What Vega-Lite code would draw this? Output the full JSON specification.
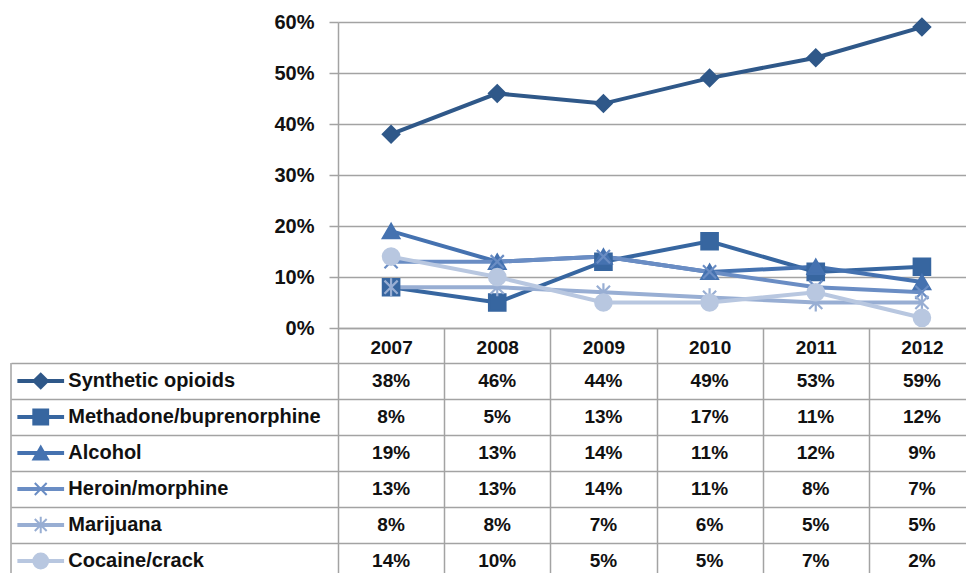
{
  "$schema": "https://vega.github.io/schema/vega-lite/v6.json",
  "padding": {"left": 10, "top": 12, "right": 0, "bottom": 0},
  "bounds": "flush",
  "spacing": 35,
  "datasets": {
    "table": [
      {"series": "Synthetic opioids", "year": 2007, "value": 0.38},
      {"series": "Synthetic opioids", "year": 2008, "value": 0.46},
      {"series": "Synthetic opioids", "year": 2009, "value": 0.44},
      {"series": "Synthetic opioids", "year": 2010, "value": 0.49},
      {"series": "Synthetic opioids", "year": 2011, "value": 0.53},
      {"series": "Synthetic opioids", "year": 2012, "value": 0.59},
      {"series": "Methadone/buprenorphine", "year": 2007, "value": 0.08},
      {"series": "Methadone/buprenorphine", "year": 2008, "value": 0.05},
      {"series": "Methadone/buprenorphine", "year": 2009, "value": 0.13},
      {"series": "Methadone/buprenorphine", "year": 2010, "value": 0.17},
      {"series": "Methadone/buprenorphine", "year": 2011, "value": 0.11},
      {"series": "Methadone/buprenorphine", "year": 2012, "value": 0.12},
      {"series": "Alcohol", "year": 2007, "value": 0.19},
      {"series": "Alcohol", "year": 2008, "value": 0.13},
      {"series": "Alcohol", "year": 2009, "value": 0.14},
      {"series": "Alcohol", "year": 2010, "value": 0.11},
      {"series": "Alcohol", "year": 2011, "value": 0.12},
      {"series": "Alcohol", "year": 2012, "value": 0.09},
      {"series": "Heroin/morphine", "year": 2007, "value": 0.13},
      {"series": "Heroin/morphine", "year": 2008, "value": 0.13},
      {"series": "Heroin/morphine", "year": 2009, "value": 0.14},
      {"series": "Heroin/morphine", "year": 2010, "value": 0.11},
      {"series": "Heroin/morphine", "year": 2011, "value": 0.08},
      {"series": "Heroin/morphine", "year": 2012, "value": 0.07},
      {"series": "Marijuana", "year": 2007, "value": 0.08},
      {"series": "Marijuana", "year": 2008, "value": 0.08},
      {"series": "Marijuana", "year": 2009, "value": 0.07},
      {"series": "Marijuana", "year": 2010, "value": 0.06},
      {"series": "Marijuana", "year": 2011, "value": 0.05},
      {"series": "Marijuana", "year": 2012, "value": 0.05},
      {"series": "Cocaine/crack", "year": 2007, "value": 0.14},
      {"series": "Cocaine/crack", "year": 2008, "value": 0.10},
      {"series": "Cocaine/crack", "year": 2009, "value": 0.05},
      {"series": "Cocaine/crack", "year": 2010, "value": 0.05},
      {"series": "Cocaine/crack", "year": 2011, "value": 0.07},
      {"series": "Cocaine/crack", "year": 2012, "value": 0.02}
    ]
  },
  "data": {"name": "table"},
  "config": {
    "font": "Liberation Sans",
    "view": {"stroke": null},
    "axis": {
      "gridColor": "#a3a3a3",
      "gridWidth": 1.5,
      "gridOpacity": 1,
      "tickColor": "#a3a3a3",
      "tickWidth": 1.5,
      "domainColor": "#a3a3a3",
      "domainWidth": 1.5,
      "labelFont": "Liberation Sans",
      "labelFontWeight": "bold",
      "labelColor": "#111111"
    }
  },
  "resolve": {"scale": {"x": "independent", "y": "independent"}},
  "vconcat": [
    {
      "width": 637,
      "height": 306,
      "encoding": {
        "x": {
          "field": "year",
          "type": "ordinal",
          "bandPosition": 0.5,
          "scale": {"type": "band", "paddingInner": 0, "paddingOuter": 0},
          "axis": {
            "title": null,
            "grid": false,
            "tickBand": "extent",
            "tickSize": 35,
            "labelPadding": -16,
            "labelBaseline": "middle",
            "labelFontSize": 19,
            "labelAngle": 0
          }
        },
        "y": {
          "field": "value",
          "type": "quantitative",
          "scale": {"domain": [0, 0.6], "nice": false},
          "axis": {
            "title": null,
            "values": [0, 0.1, 0.2, 0.3, 0.4, 0.5, 0.6],
            "format": ".0%",
            "tickSize": 9,
            "labelPadding": 15,
            "labelFontSize": 20,
            "domain": true
          }
        }
      },
      "layer": [
        {
          "mark": {"type": "line", "strokeWidth": 4},
          "encoding": {
            "stroke": {
              "field": "series",
              "type": "nominal",
              "legend": null,
              "scale": {
                "domain": ["Synthetic opioids", "Methadone/buprenorphine", "Alcohol", "Heroin/morphine", "Marijuana", "Cocaine/crack"],
                "range": ["#2f5889", "#3766a0", "#4572b0", "#6a8dc4", "#98aed3", "#b8c7e0"]
              }
            }
          }
        },
        {
          "mark": {"type": "point", "filled": true, "size": 270, "strokeWidth": 2.2, "opacity": 1},
          "encoding": {
            "shape": {
              "field": "series",
              "type": "nominal",
              "legend": null,
              "scale": {
                "domain": ["Synthetic opioids", "Methadone/buprenorphine", "Alcohol", "Heroin/morphine", "Marijuana", "Cocaine/crack"],
                "range": ["diamond", "square", "triangle-up", "M-0.8,-0.8L0.8,0.8M-0.8,0.8L0.8,-0.8", "M-0.8,-0.8L0.8,0.8M-0.8,0.8L0.8,-0.8M0,-1.1L0,1.1", "circle"]
              }
            },
            "fill": {
              "field": "series",
              "type": "nominal",
              "legend": null,
              "scale": {
                "domain": ["Synthetic opioids", "Methadone/buprenorphine", "Alcohol", "Heroin/morphine", "Marijuana", "Cocaine/crack"],
                "range": ["#2f5889", "#3766a0", "#4572b0", "#6a8dc4", "#98aed3", "#b8c7e0"]
              }
            },
            "stroke": {
              "field": "series",
              "type": "nominal",
              "legend": null,
              "scale": {
                "domain": ["Synthetic opioids", "Methadone/buprenorphine", "Alcohol", "Heroin/morphine", "Marijuana", "Cocaine/crack"],
                "range": ["#2f5889", "#3766a0", "#4572b0", "#6a8dc4", "#98aed3", "#b8c7e0"]
              }
            }
          }
        }
      ]
    },
    {
      "width": 637,
      "height": 216,
      "layer": [
        {
          "data": {"values": [{}]},
          "mark": {"type": "rule", "color": "#a3a3a3", "strokeWidth": 1.5},
          "encoding": {
            "x": {"datum": 2003.42, "type": "quantitative"}
          }
        },
        {
          "mark": {"type": "text", "font": "Liberation Sans", "fontWeight": "bold", "fontSize": 19, "color": "#111111", "align": "center", "baseline": "middle"},
          "encoding": {
            "x": {
              "field": "year",
              "type": "quantitative",
              "scale": {"domain": [2006.5, 2012.5], "nice": false, "zero": false},
              "axis": {
                "title": null,
                "values": [2006.5, 2007.5, 2008.5, 2009.5, 2010.5, 2011.5, 2012.5],
                "grid": true,
                "labels": false,
                "ticks": false,
                "domain": false
              }
            },
            "y": {
              "field": "series",
              "type": "nominal",
              "sort": ["Synthetic opioids", "Methadone/buprenorphine", "Alcohol", "Heroin/morphine", "Marijuana", "Cocaine/crack"],
              "scale": {"type": "band", "paddingInner": 0, "paddingOuter": 0},
              "axis": {
                "title": null,
                "labels": false,
                "domain": false,
                "tickBand": "extent",
                "tickSize": 327,
                "grid": true
              }
            },
            "text": {"field": "value", "type": "quantitative", "format": ".0%"}
          }
        },
        {
          "transform": [{"filter": "datum.year == 2007"}],
          "mark": {"type": "text", "font": "Liberation Sans", "fontWeight": "bold", "fontSize": 20, "color": "#111111", "align": "left", "baseline": "middle"},
          "encoding": {
            "x": {"datum": 2003.96, "type": "quantitative"},
            "y": {"field": "series", "type": "nominal", "sort": ["Synthetic opioids", "Methadone/buprenorphine", "Alcohol", "Heroin/morphine", "Marijuana", "Cocaine/crack"]},
            "text": {"field": "series", "type": "nominal"}
          }
        },
        {
          "transform": [{"filter": "datum.year == 2007"}],
          "mark": {"type": "rule", "strokeWidth": 4},
          "encoding": {
            "x": {"datum": 2003.48, "type": "quantitative"},
            "x2": {"datum": 2003.92},
            "y": {"field": "series", "type": "nominal", "sort": ["Synthetic opioids", "Methadone/buprenorphine", "Alcohol", "Heroin/morphine", "Marijuana", "Cocaine/crack"], "bandPosition": 0.5},
            "stroke": {
              "field": "series",
              "type": "nominal",
              "legend": null,
              "scale": {
                "domain": ["Synthetic opioids", "Methadone/buprenorphine", "Alcohol", "Heroin/morphine", "Marijuana", "Cocaine/crack"],
                "range": ["#2f5889", "#3766a0", "#4572b0", "#6a8dc4", "#98aed3", "#b8c7e0"]
              }
            }
          }
        },
        {
          "transform": [{"filter": "datum.year == 2007"}],
          "mark": {"type": "point", "filled": true, "size": 220, "strokeWidth": 2, "opacity": 1},
          "encoding": {
            "x": {"datum": 2003.70, "type": "quantitative"},
            "y": {"field": "series", "type": "nominal", "sort": ["Synthetic opioids", "Methadone/buprenorphine", "Alcohol", "Heroin/morphine", "Marijuana", "Cocaine/crack"]},
            "shape": {
              "field": "series",
              "type": "nominal",
              "legend": null,
              "scale": {
                "domain": ["Synthetic opioids", "Methadone/buprenorphine", "Alcohol", "Heroin/morphine", "Marijuana", "Cocaine/crack"],
                "range": ["diamond", "square", "triangle-up", "M-0.8,-0.8L0.8,0.8M-0.8,0.8L0.8,-0.8", "M-0.8,-0.8L0.8,0.8M-0.8,0.8L0.8,-0.8M0,-1.1L0,1.1", "circle"]
              }
            },
            "fill": {
              "field": "series",
              "type": "nominal",
              "legend": null,
              "scale": {
                "domain": ["Synthetic opioids", "Methadone/buprenorphine", "Alcohol", "Heroin/morphine", "Marijuana", "Cocaine/crack"],
                "range": ["#2f5889", "#3766a0", "#4572b0", "#6a8dc4", "#98aed3", "#b8c7e0"]
              }
            },
            "stroke": {
              "field": "series",
              "type": "nominal",
              "legend": null,
              "scale": {
                "domain": ["Synthetic opioids", "Methadone/buprenorphine", "Alcohol", "Heroin/morphine", "Marijuana", "Cocaine/crack"],
                "range": ["#2f5889", "#3766a0", "#4572b0", "#6a8dc4", "#98aed3", "#b8c7e0"]
              }
            }
          }
        }
      ]
    }
  ]
}
